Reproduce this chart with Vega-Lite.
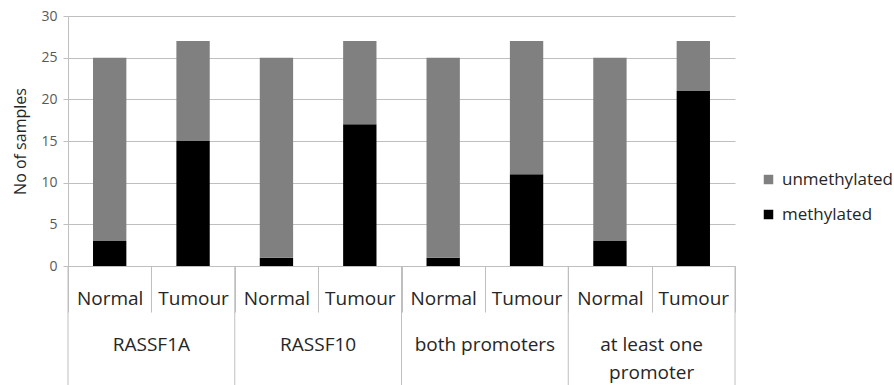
{
  "$schema": "https://vega.github.io/schema/vega-lite/v6.json",
  "width": 667,
  "height": 250,
  "autosize": {"type": "none"},
  "padding": {"left": 68, "top": 16, "right": 159, "bottom": 119},
  "config": {"font": "Open Sans", "view": {"stroke": null}},
  "datasets": {
    "bars": [
      {"key": "RASSF1A|Normal", "status": "methylated", "ord": 1, "n": 3},
      {"key": "RASSF1A|Normal", "status": "unmethylated", "ord": 2, "n": 22},
      {"key": "RASSF1A|Tumour", "status": "methylated", "ord": 1, "n": 15},
      {"key": "RASSF1A|Tumour", "status": "unmethylated", "ord": 2, "n": 12},
      {"key": "RASSF10|Normal", "status": "methylated", "ord": 1, "n": 1},
      {"key": "RASSF10|Normal", "status": "unmethylated", "ord": 2, "n": 24},
      {"key": "RASSF10|Tumour", "status": "methylated", "ord": 1, "n": 17},
      {"key": "RASSF10|Tumour", "status": "unmethylated", "ord": 2, "n": 10},
      {"key": "both promoters|Normal", "status": "methylated", "ord": 1, "n": 1},
      {"key": "both promoters|Normal", "status": "unmethylated", "ord": 2, "n": 24},
      {"key": "both promoters|Tumour", "status": "methylated", "ord": 1, "n": 11},
      {"key": "both promoters|Tumour", "status": "unmethylated", "ord": 2, "n": 16},
      {"key": "at least one promoter|Normal", "status": "methylated", "ord": 1, "n": 3},
      {"key": "at least one promoter|Normal", "status": "unmethylated", "ord": 2, "n": 22},
      {"key": "at least one promoter|Tumour", "status": "methylated", "ord": 1, "n": 21},
      {"key": "at least one promoter|Tumour", "status": "unmethylated", "ord": 2, "n": 6}
    ],
    "groupStarts": [
      {"key": "RASSF1A|Normal"},
      {"key": "RASSF10|Normal"},
      {"key": "both promoters|Normal"},
      {"key": "at least one promoter|Normal"}
    ],
    "groupEnd": [
      {"key": "at least one promoter|Tumour"}
    ],
    "groupLabels": [
      {"key": "RASSF1A|Tumour", "label": "RASSF1A"},
      {"key": "RASSF10|Tumour", "label": "RASSF10"},
      {"key": "both promoters|Tumour", "label": "both promoters"},
      {"key": "at least one promoter|Tumour", "label": "at least one\npromoter"}
    ]
  },
  "layer": [
    {
      "data": {"name": "bars"},
      "mark": {"type": "bar", "width": {"band": 0.4}},
      "encoding": {
        "x": {
          "field": "key",
          "type": "nominal",
          "sort": null,
          "scale": {
            "domain": ["RASSF1A|Normal", "RASSF1A|Tumour", "RASSF10|Normal", "RASSF10|Tumour", "both promoters|Normal", "both promoters|Tumour", "at least one promoter|Normal", "at least one promoter|Tumour"],
            "paddingInner": 0,
            "paddingOuter": 0
          },
          "axis": {
            "title": null,
            "grid": false,
            "labelAngle": 0,
            "labelExpr": "split(datum.label, '|')[1]",
            "tickBand": "extent",
            "tickSize": 46,
            "tickColor": "#bfbfbf",
            "domainColor": "#bfbfbf",
            "labelFontSize": 19,
            "labelColor": "#262626",
            "labelBaseline": "middle",
            "labelPadding": -14
          }
        },
        "y": {
          "field": "n",
          "type": "quantitative",
          "stack": "zero",
          "scale": {"domain": [0, 30], "nice": false},
          "axis": {
            "title": "No of samples",
            "values": [0, 5, 10, 15, 20, 25, 30],
            "grid": true,
            "gridColor": "#bfbfbf",
            "domainColor": "#bfbfbf",
            "tickColor": "#bfbfbf",
            "tickSize": 5,
            "labelFontSize": 14,
            "labelColor": "#595959",
            "labelPadding": 6,
            "titleFontSize": 16,
            "titleFontWeight": "normal",
            "titleColor": "#262626",
            "titlePadding": 12
          }
        },
        "color": {
          "field": "status",
          "type": "nominal",
          "scale": {"domain": ["unmethylated", "methylated"], "range": ["#808080", "#000000"]},
          "legend": {
            "title": null,
            "orient": "none",
            "legendX": 692,
            "legendY": 155,
            "symbolType": "square",
            "symbolSize": 90,
            "symbolStrokeWidth": 0,
            "labelFontSize": 17,
            "labelColor": "#262626",
            "labelOffset": 5,
            "rowPadding": 17
          }
        },
        "order": {"field": "ord", "type": "quantitative"}
      }
    },
    {
      "data": {"name": "groupStarts"},
      "mark": {"type": "rule", "color": "#bfbfbf"},
      "encoding": {
        "x": {"field": "key", "type": "nominal", "bandPosition": 0},
        "y": {"datum": 0},
        "y2": {"datum": -14.4}
      }
    },
    {
      "data": {"name": "groupEnd"},
      "mark": {"type": "rule", "color": "#bfbfbf"},
      "encoding": {
        "x": {"field": "key", "type": "nominal", "bandPosition": 1},
        "y": {"datum": 0},
        "y2": {"datum": -14.4}
      }
    },
    {
      "data": {"name": "groupLabels"},
      "mark": {"type": "text", "baseline": "top", "fontSize": 19, "color": "#262626", "lineBreak": "\n", "lineHeight": 28},
      "encoding": {
        "x": {"field": "key", "type": "nominal", "bandPosition": 0},
        "y": {"datum": -8.4},
        "text": {"field": "label"}
      }
    }
  ]
}
